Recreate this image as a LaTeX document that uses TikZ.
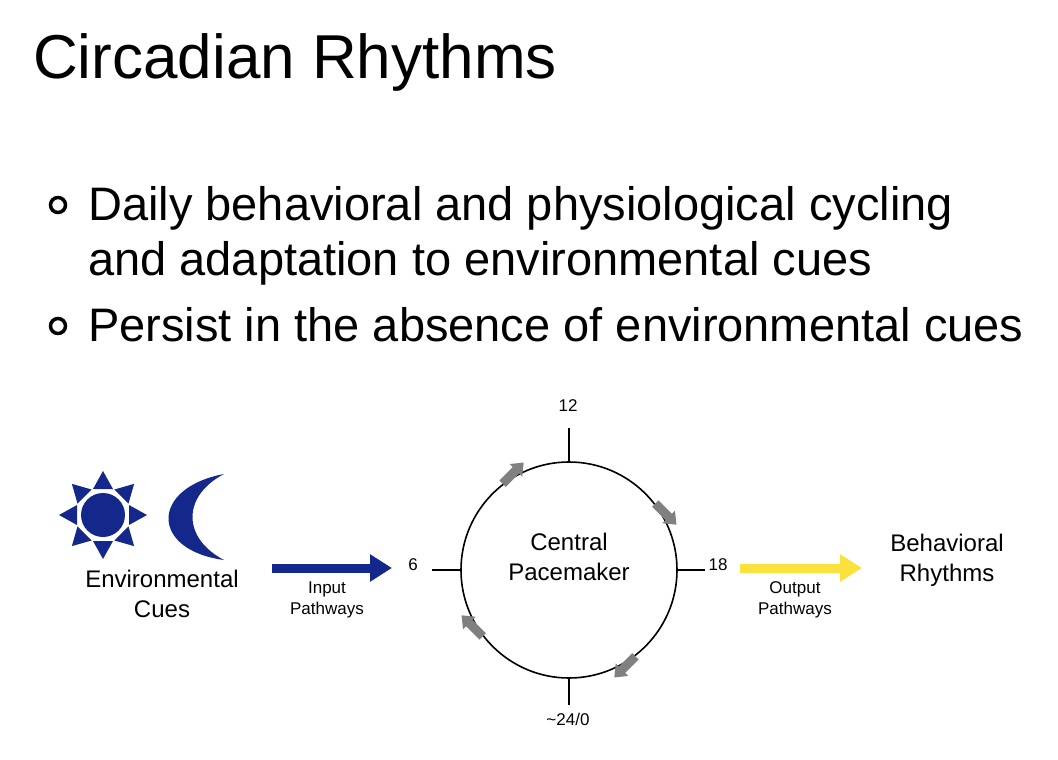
\documentclass[tikz,border=0pt]{standalone}
\usepackage{fontspec}
\setmainfont{Liberation Sans}
\usetikzlibrary{arrows.meta}
\definecolor{navy}{RGB}{20,40,140}
\definecolor{sunyel}{RGB}{250,225,60}
\definecolor{grayarr}{RGB}{128,128,128}
\tikzset{
  lbl/.style={font=\fontsize{17}{21}\selectfont, align=center, inner sep=0},
  mid/.style={font=\fontsize{24}{30}\selectfont, align=center, inner sep=0},
  bul/.style={anchor=base west, inner sep=0, font=\fontsize{47}{55}\selectfont},
  bigarrow/.style={-{Triangle[length=22pt,width=26pt]}, line width=9pt},
  ring/.style={grayarr, line width=9pt, -{Triangle[length=11pt,width=17pt]}},
  tick/.style={line width=1.6pt}
}
\begin{document}
\begin{tikzpicture}[x=1pt,y=-1pt]
\useasboundingbox (0,0) rectangle (1058,760);
\node[anchor=base west, inner sep=0, font=\fontsize{62}{66}\selectfont] (title) at (33,78) {Circadian Rhythms};
\node[bul] (b1) at (88,220) {Daily behavioral and physiological cycling};
\node[bul] (b1b) at (88,275) {and adaptation to environmental cues};
\node[bul] (b2) at (88,341) {Persist in the absence of environmental cues};
\draw[line width=3.5pt] (58,205) circle (7.5);
\draw[line width=3.5pt] (58,326) circle (7.5);
% sun
\fill[navy] (103,515) circle (22);
\foreach \a in {0,45,...,315}{
  \fill[navy, rotate around={\a:(103,515)}] (129,505) -- (129,525) -- (147,515) -- cycle;
}
% moon
\fill[navy] (224,474) .. controls (150,488) and (150,550) .. (224,560)
  .. controls (182,538) and (182,496) .. cycle;
\node[mid] (env) at (162,594) {Environmental\\Cues};
\node[mid] (beh) at (947,560) {Behavioral\\Rhythms};
% clock
\node[draw, circle, line width=1.6pt, minimum size=216pt, inner sep=0] (pm) at (569,570) {};
\node[mid] (pmt) at (569,557) {Central\\Pacemaker};
\coordinate (t12) at (569,428); \coordinate (t24) at (569,705);
\coordinate (t6) at (432,570); \coordinate (t18) at (705,570);
\draw[tick] (pm.north) -- (t12);
\draw[tick] (pm.south) -- (t24);
\draw[tick] (pm.west) -- (t6);
\draw[tick] (pm.east) -- (t18);
\node[lbl] (n12) at (568,406) {12};
\node[lbl] (n24) at (568,719) {\textasciitilde 24/0};
\node[lbl] (n6) at (413,565) {6};
\node[lbl] (n18) at (718,565) {18};
\foreach \a in {135,45,-45,-135}{
  \draw[ring] ([shift={(\a:108)}]pm.center) ++(\a-90:-14) coordinate (s) -- ++(\a+90:30);
}
% arrows
\coordinate (ia) at (272,568); \coordinate (ib) at (392,568);
\draw[bigarrow, navy] (ia) -- (ib);
\node[lbl] (inp) at (327,600) {Input\\Pathways};
\coordinate (oa) at (740,568); \coordinate (ob) at (862,568);
\draw[bigarrow, sunyel] (oa) -- (ob);
\node[lbl] (outp) at (795,600) {Output\\Pathways};
\end{tikzpicture}
\end{document}
